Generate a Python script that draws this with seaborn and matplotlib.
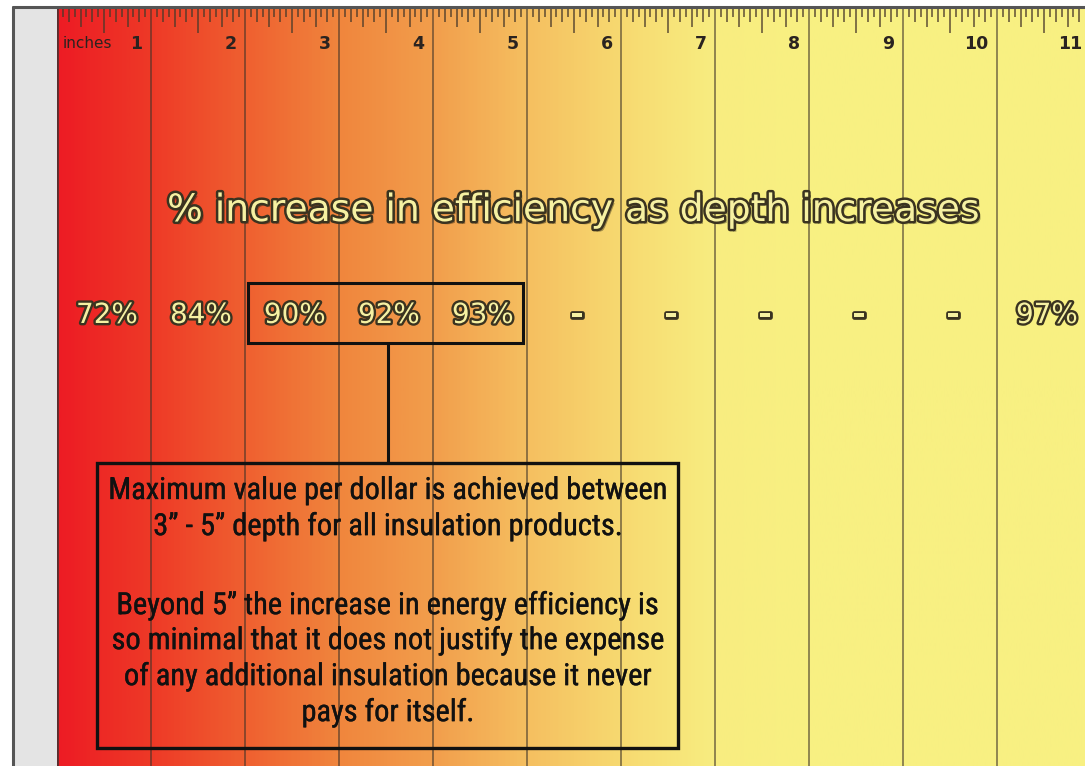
import numpy as np
import matplotlib
matplotlib.use("Agg")
import matplotlib.pyplot as plt
import matplotlib.patheffects as pe
from matplotlib import font_manager
from matplotlib.patches import Rectangle
import seaborn as sns

# ---- data -------------------------------------------------------------
depth_inches = [1, 2, 3, 4, 5, 6, 7, 8, 9, 10, 11]
efficiency_pct = [72, 84, 90, 92, 93, None, None, None, None, None, 97]
best_value_range = (3, 5)          # inches highlighted as best value per dollar
ruler_colors = ["#ed1c24", "#ee3a27", "#ef6030", "#f0863d", "#f29e4c",
                "#f5bf60", "#f7d970", "#f8ed80", "#f8f082", "#f8f082",
                "#f8f082", "#f8f082"]   # one colour per inch mark, 0..11
title = "% increase in efficiency as depth increases"
note_lines = [
    "Maximum value per dollar is achieved between",
    "3\u201d - 5\u201d depth for all insulation products.",
    "Beyond 5\u201d the increase in energy efficiency is",
    "so minimal that it does not justify the expense",
    "of any additional insulation because it never",
    "pays for itself.",
]

sns.set_style("white")
plt.rcParams["font.family"] = ["DejaVu Sans"]

installed = {f.name for f in font_manager.fontManager.ttflist}
narrow_family = next((f for f in ["Liberation Sans Narrow", "DejaVu Sans Condensed",
                                  "Roboto Condensed", "Liberation Sans"]
                      if f in installed), "DejaVu Sans")

W, H = 1085, 766
fig = plt.figure(figsize=(W / 100, H / 100), dpi=100)
fig.patch.set_facecolor("white")
renderer = fig.canvas.get_renderer()


def fit_width(text_artist, target_px):
    """Rescale a text's font size so it spans target_px pixels."""
    w = text_artist.get_window_extent(renderer).width
    text_artist.set_fontsize(text_artist.get_fontsize() * target_px / w)
    return text_artist.get_fontsize()


# grey margin strip and frame on the left / top
fig.patches.append(Rectangle((13 / W, 0), 44 / W, (H - 8) / H,
                             transform=fig.transFigure, facecolor="#e4e4e4",
                             edgecolor="none", zorder=0))
fig.add_artist(plt.Line2D([13 / W, 13 / W], [0, (H - 7) / H],
                          transform=fig.transFigure, color="#555555", lw=2.2))
fig.add_artist(plt.Line2D([13 / W, 1], [(H - 7) / H, (H - 7) / H],
                          transform=fig.transFigure, color="#555555", lw=2.2))

# ruler axes: x in inches, y in pixels down from the ruler's top edge
px_per_inch = 94.0
x_max = (W - 57) / px_per_inch
ax = fig.add_axes([57 / W, 0, (W - 57) / W, (H - 8) / H])
ax.set_axis_off()

cmap = sns.blend_palette(ruler_colors, as_cmap=True)
grad = np.linspace(0, 1, 600)[None, :]
ax.imshow(grad, aspect="auto", cmap=cmap,
          extent=(0, len(ruler_colors) - 1, H - 8, 0), zorder=0)
ax.set_xlim(0, x_max)
ax.set_ylim(H - 8, 0)

# shadowed left edge of the ruler
ax.axvline(0, color="#333333", lw=2.0, alpha=0.8, zorder=3)

# sixteenth-inch graduations
tick_len = {8: 25, 4: 19, 2: 14, 1: 9}
for k in range(1, int(x_max * 16) + 1):
    if k % 16 == 0:
        continue
    for step in (8, 4, 2, 1):
        if k % step == 0:
            length = tick_len[step]
            break
    ax.plot([k / 16, k / 16], [0, length], color="#4a3a2a", lw=1.3,
            alpha=0.75, solid_capstyle="butt", zorder=2)

# inch lines and numbers
for d in depth_inches:
    ax.axvline(d, color="#3d3228", lw=1.2, alpha=0.65, zorder=2)
    ax.text(d - 0.09, 36, str(d), ha="right", va="center", fontsize=12.5,
            fontweight="bold", color="#2a2320", zorder=4)
ax.text(0.06, 36, "inches", ha="left", va="center", fontsize=11,
        color="#2a2320", zorder=4)

# headline
outline = [pe.withSimplePatchShadow(offset=(2, -2), shadow_rgbFace="#000000",
                                    alpha=0.35),
           pe.Stroke(linewidth=3.6, foreground="#3a3320"), pe.Normal()]
t_title = ax.text(5.49, 203, title, ha="center", va="center", fontsize=26,
                  color="#f6f1a2", path_effects=outline, zorder=5)
fit_width(t_title, 812)

# efficiency per depth
label_fx = [pe.Stroke(linewidth=3.4, foreground="#3a3320"), pe.Normal()]
for d, v in zip(depth_inches, efficiency_pct):
    if v is not None:
        ax.text(d - 0.47, 307, f"{v}%", ha="center", va="center",
                fontsize=20, color="#f6f1a2", path_effects=label_fx, zorder=5)
    else:
        ax.text(d - 0.47, 307, "-", ha="center", va="center", fontsize=25,
                fontweight="bold", color="#f6f1a2", path_effects=label_fx,
                zorder=5)

# highlight box around the best-value depths
lo, hi = best_value_range
box_left, box_right = lo - 1 + 0.03, hi - 0.04
ax.add_patch(Rectangle((box_left, 275), box_right - box_left, 60,
                       fill=False, edgecolor="#111111", lw=2.2, zorder=6))
mid = 3.52
ax.plot([mid, mid], [335, 455], color="#111111", lw=2.2, zorder=6)

# explanation box
ax.add_patch(Rectangle((0.43, 455), 6.18, 285, fill=False,
                       edgecolor="#111111", lw=2.4, zorder=6))
note_y = [483, 519, 598, 633, 669, 705]
heavier = [pe.Stroke(linewidth=0.25, foreground="#111111"), pe.Normal()]
note_texts = [ax.text(mid, y, line, ha="center", va="center", fontsize=20,
                      family=[narrow_family, "DejaVu Sans"],
                      color="#111111", path_effects=heavier, zorder=7)
              for y, line in zip(note_y, note_lines)]
size = fit_width(note_texts[0], 558)
for t in note_texts:
    t.set_fontsize(size)

fig.savefig("out.png", dpi=100)
